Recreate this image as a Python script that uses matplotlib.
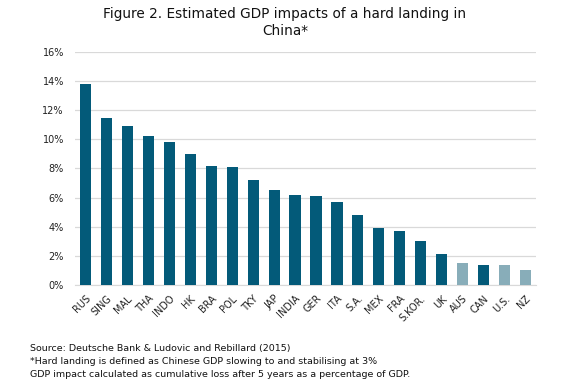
import matplotlib
matplotlib.use("Agg")
import matplotlib.pyplot as plt
from matplotlib.ticker import FuncFormatter

countries = ["RUS", "SING", "MAL", "THA", "INDO", "HK", "BRA", "POL", "TKY", "JAP",
             "INDIA", "GER", "ITA", "S.A.", "MEX", "FRA", "S.KOR.", "UK", "AUS", "CAN",
             "U.S.", "NZ"]
impact = [13.8, 11.5, 10.9, 10.2, 9.8, 9.0, 8.2, 8.1, 7.2, 6.55,
          6.2, 6.1, 5.7, 4.8, 3.9, 3.7, 3.05, 2.1, 1.5, 1.4,
          1.4, 1.0]
highlight = [False] * 18 + [True, False, True, True]

dark = "#035a79"
light = "#88adb9"
colors = [light if h else dark for h in highlight]

plt.rcParams['font.family'] = ['DejaVu Sans']
fig = plt.figure(figsize=(5.70, 3.84), dpi=100)
ax = fig.add_axes([0.1316, 0.2578, 0.8088, 0.6068])

x = list(range(len(countries)))
ax.bar(x, impact, width=0.53, color=colors, zorder=3)
ax.set_xlim(-0.5, len(countries) - 0.5)
ax.set_ylim(0, 16)
ax.set_yticks(range(0, 17, 2))
ax.yaxis.set_major_formatter(FuncFormatter(lambda v, p: f"{int(v)}%"))
ax.grid(axis="y", color="#d9d9d9", linewidth=0.9, zorder=0)
for s in ["top", "right", "left"]:
    ax.spines[s].set_visible(False)
ax.spines["bottom"].set_color("#d9d9d9")
ax.tick_params(axis="both", length=0, labelsize=7, colors="#222222")
ax.tick_params(axis="y", pad=8)
ax.set_xticks(x)
ax.set_xticklabels(countries, rotation=45, ha="right", rotation_mode="anchor")
ax.tick_params(axis="x", pad=6)

fig.text(0.5, 0.982, "Figure 2. Estimated GDP impacts of a hard landing in\nChina*",
         ha="center", va="top", fontsize=9.8, color="#111111", linespacing=1.25)

foot = ("Source: Deutsche Bank & Ludovic and Rebillard (2015)\n"
        "*Hard landing is defined as Chinese GDP slowing to and stabilising at 3%\n"
        "GDP impact calculated as cumulative loss after 5 years as a percentage of GDP.")
fig.text(0.053, 0.104, foot, ha="left", va="top", fontsize=6.8, color="#111111",
         linespacing=1.55)

fig.savefig("out.png", dpi=100, facecolor="white")
